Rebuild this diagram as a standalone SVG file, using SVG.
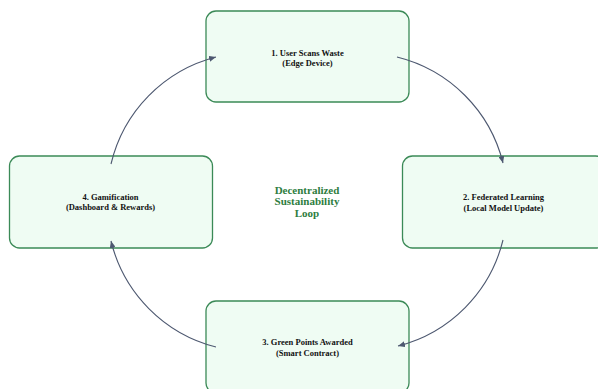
<svg xmlns="http://www.w3.org/2000/svg" width="598" height="389" viewBox="0 0 598 389">
<defs>
<style>
.box{fill:#effcf3;stroke:#3b8a57;stroke-width:1.3}
.lbl{font-family:"Liberation Serif","Times New Roman",serif;font-weight:bold;font-size:8.5px;fill:#111;text-anchor:middle}
.title{font-family:"Liberation Serif","Times New Roman",serif;font-weight:bold;font-size:11px;fill:#2e7d40;text-anchor:middle}
.edge{fill:none;stroke:#4d5870;stroke-width:1.1}
</style>
<marker id="ah" markerUnits="userSpaceOnUse" markerWidth="8" markerHeight="6" refX="7" refY="3" orient="auto">
<path d="M0,0 L7,3 L0,6 z" fill="#4d5870"/>
</marker>
</defs>
<rect width="598" height="389" fill="#ffffff"/>
<g id="node1">
<rect class="box" x="206" y="11" width="203" height="91" rx="10"/>
<text class="lbl" x="307.5" y="55.5">1. User Scans Waste</text>
<text class="lbl" x="307.5" y="66">(Edge Device)</text>
</g>
<g id="node2">
<rect class="box" x="402.5" y="156" width="203" height="92" rx="10"/>
<text class="lbl" x="503.5" y="200.2">2. Federated Learning</text>
<text class="lbl" x="503.5" y="210.6">(Local Model Update)</text>
</g>
<g id="node3">
<rect class="box" x="206" y="301" width="203" height="92" rx="10"/>
<text class="lbl" x="307.5" y="345.4">3. Green Points Awarded</text>
<text class="lbl" x="307.5" y="356">(Smart Contract)</text>
</g>
<g id="node4">
<rect class="box" x="9.5" y="156" width="203" height="92" rx="10"/>
<text class="lbl" x="110.5" y="199.8">4. Gamification</text>
<text class="lbl" x="110.5" y="210.3">(Dashboard &amp; Rewards)</text>
</g>
<g id="center">
<text class="title" x="307" y="193.5">Decentralized</text>
<text class="title" x="307" y="205.2">Sustainability</text>
<text class="title" x="307" y="216.9">Loop</text>
</g>
<g id="edges">
<path class="edge" d="M397,57 A145,145 0 0 1 503,163" marker-end="url(#ah)"/>
<path class="edge" d="M503,240 A145,145 0 0 1 398,346" marker-end="url(#ah)"/>
<path class="edge" d="M216,347 A145,145 0 0 1 111,241" marker-end="url(#ah)"/>
<path class="edge" d="M111,164 A145,145 0 0 1 216,57" marker-end="url(#ah)"/>
</g>
</svg>
